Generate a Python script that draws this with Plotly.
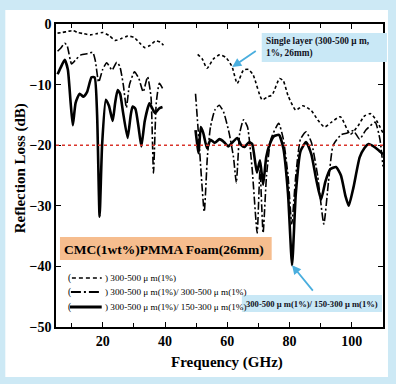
import plotly.graph_objects as go

# ---------------- data ----------------
freq_single = [5.5, 7, 9, 10.5, 12, 14, 16, 18, 20, 22, 24, 26, 28, 30, 32, 33.5, 35, 37, 38.5, 39.5,
               None,
               50.5, 52, 53.5, 55.5, 57.5, 59.5, 61.5, 63.2, 65.2, 66.8, 68.3, 71.2, 73, 74.4, 76.8, 78,
               79.5, 82, 84.3, 87, 89, 91.2, 93.5, 96.3, 99.5, 102, 104, 106, 108, 110]
rl_single = [-1.5, -1.4, -1.2, -1.1, -1.4, -1.6, -1.8, -1.6, -1.4, -1.9, -2.7, -2.4, -2.0, -2.2, -3.2, -3.9, -3.6, -2.8, -3.0, -3.5,
             None,
             -5.0, -5.8, -7.3, -5.8, -5.1, -5.5, -7.0, -9.8, -7.6, -7.5, -8.4, -12.5, -12.0, -11.7, -9.0, -9.4,
             -11.8, -14.2, -13.5, -14.3, -15.8, -17.0, -16.2, -15.3, -18.2, -16.8, -15.2, -14.8, -16.0, -18.0]

freq_same = [5.5, 6.5, 7.8, 8.6, 10, 11.5, 13, 15, 16.8, 17.6, 18.7, 20, 21.3, 23, 24.5, 25.5, 26.6, 27.6, 28.6, 30.2,
             31.6, 33, 34.4, 35.5, 36.3, 37.2, 38.2, 39.5,
             None,
             49.8, 51, 52.6, 53.6, 54.6, 56, 57.4, 58.8, 60.6, 62, 62.9, 64, 65.2, 66.5, 68, 69.6, 70.5, 71.5, 72.6,
             74, 76.5, 78, 79.5, 80.7, 82, 83.5, 85.3, 87, 89, 91, 92.5, 94, 96.5, 98.5, 100.5, 102.5, 104.5,
             107.5, 109, 110]
rl_same = [-4.5, -4.0, -3.2, -3.6, -6.6, -5.8, -5.1, -4.9, -4.7, -6.0, -9.6, -7.5, -6.4, -7.6, -6.3, -7.0, -10.0, -13.8, -10.0, -7.9,
           -9.0, -11.2, -8.7, -12.0, -24.6, -13.0, -9.8, -10.9,
           None,
           -11.5, -20.0, -31.0, -22.0, -17.0, -14.2, -13.4, -14.5, -18.0, -22.0, -26.2, -18.0, -15.8, -17.0, -24.0, -34.5, -24.0, -34.5, -25.0,
           -19.0, -16.4, -19.0, -25.0, -33.0, -25.0, -19.0, -17.8, -19.5, -25.0, -33.0, -26.0, -20.0, -18.3, -18.0, -17.6, -19.0, -17.5,
           -16.2, -19.0, -23.5]

freq_diff = [5.5, 6.5, 7.8, 8.8, 9.7, 10.4, 11.3, 12.6, 13.8, 15, 16.4, 17.4, 18.2, 19, 19.8, 21, 22, 23.2, 24, 24.8,
             25.6, 26.5, 28, 29, 29.6, 30.5, 31.5, 32.4, 33.5, 35, 36, 36.8, 38.2, 39.2,
             None,
             49.8, 50.8, 51.5, 52.3, 53.5, 54.6, 56, 57.5, 59, 60.3, 61.5, 63.2, 64.5, 65.5, 67, 68, 69.5, 70.5,
             71.5, 72.5, 73.5, 75, 76.6, 78, 79.5, 80.8, 82, 83.5, 85.3, 87, 88.5, 90.1, 91.5, 93, 94.9, 96.5,
             98, 99, 100.5, 102.5, 104, 105.4, 107, 108.5, 110]
rl_diff = [-8.3, -7.2, -5.9, -7.5, -13.0, -16.7, -13.0, -11.5, -12.0, -11.2, -8.8, -8.8, -15.0, -31.8, -20.0, -12.5, -13.5, -16.0, -13.0, -10.9,
           -11.5, -14.5, -18.8, -15.0, -13.6, -14.0, -17.0, -20.2, -16.0, -13.1, -14.0, -14.7, -13.9, -13.7,
           None,
           -17.5, -21.3, -17.0, -18.0, -20.5, -19.1, -19.6, -19.0, -19.5, -20.2, -19.6, -18.8, -20.0, -20.3, -19.5, -19.8, -24.5, -22.5,
           -26.5, -22.0, -20.0, -18.5, -18.3, -20.5, -28.0, -39.8, -28.0, -21.0, -19.5, -21.5, -25.5, -29.0, -26.0, -24.0, -23.6, -25.0,
           -28.5, -30.0, -27.0, -22.0, -20.5, -19.8, -20.2, -20.8, -21.5]

x_tickvals = [20, 40, 60, 80, 100]
y_tickvals = [0, -10, -20, -30, -40, -50]
threshold_db = -20
legend_labels = ["300-500 \u03bc m(1%)",
                 "300-500 \u03bc m(1%)/ 300-500 \u03bc m(1%)",
                 "300-500 \u03bc m(1%)/ 150-300 \u03bc m(1%)"]
title_text = "CMC(1wt%)PMMA Foam(26mm)"
single_note = "Single layer (300-500 \u03bc m,<br>1%, 26mm)"
double_note = "300-500 \u03bc m(1%)/ 150-300 \u03bc m(1%)"

# ---------------- layout geometry ----------------
W, H = 396, 384
L, R, T, B = 56, 385, 24, 327
SERIF = "Liberation Serif, Times New Roman, serif"
PAGE_BG = "#cde9f5"


def px(x):
    return (x - L) / (R - L)


def py(y):
    return (B - y) / (B - T)


fig = go.Figure()

fig.add_trace(go.Scatter(x=freq_single, y=rl_single, mode="lines", connectgaps=False,
                         line=dict(color="black", width=1.6, dash="3px,2.5px", shape="spline", smoothing=0.6),
                         showlegend=False))
fig.add_trace(go.Scatter(x=freq_same, y=rl_same, mode="lines", connectgaps=False,
                         line=dict(color="black", width=1.6, dash="8px,2.5px,2px,2.5px", shape="spline", smoothing=0.5),
                         showlegend=False))
fig.add_trace(go.Scatter(x=freq_diff, y=rl_diff, mode="lines", connectgaps=False,
                         line=dict(color="black", width=2.6, shape="spline", smoothing=0.5),
                         showlegend=False))

shapes = []
# white inner panel over the light-blue page
shapes.append(dict(type="rect", xref="paper", yref="paper", x0=px(5), x1=px(390), y0=py(377), y1=py(10),
                   fillcolor="white", line=dict(width=0), layer="below"))
# threshold line
shapes.append(dict(type="line", xref="paper", yref="y", x0=0, x1=1, y0=threshold_db, y1=threshold_db,
                   line=dict(color="#d9342b", width=1.6, dash="dot"), layer="above"))
# orange title box
shapes.append(dict(type="rect", xref="paper", yref="paper", x0=px(60), x1=px(273), y0=py(260), y1=py(237),
                   fillcolor="#f6bd8e", line=dict(width=0), layer="above"))
# blue note boxes
shapes.append(dict(type="rect", xref="paper", yref="paper", x0=px(263), x1=px(389), y0=py(62), y1=py(33),
                   fillcolor="#c9e8f6", line=dict(width=0), layer="above"))
shapes.append(dict(type="rect", xref="paper", yref="paper", x0=px(243), x1=px(384), y0=py(312), y1=py(295),
                   fillcolor="#c9e8f6", line=dict(width=0), layer="above"))
# legend samples
legend_rows = [278, 292, 307]
shapes.append(dict(type="line", xref="paper", yref="paper", x0=px(72), x1=px(102), y0=py(legend_rows[0]), y1=py(legend_rows[0]),
                   line=dict(color="black", width=1.6, dash="4px,3px"), layer="above"))
shapes.append(dict(type="line", xref="paper", yref="paper", x0=px(71), x1=px(102), y0=py(legend_rows[1]), y1=py(legend_rows[1]),
                   line=dict(color="black", width=1.8, dash="10px,3px,2px,3px"), layer="above"))
shapes.append(dict(type="line", xref="paper", yref="paper", x0=px(70), x1=px(102), y0=py(legend_rows[2]), y1=py(legend_rows[2]),
                   line=dict(color="black", width=3.2), layer="above"))

annotations = []
# axis titles
annotations.append(dict(text="Reflection Loss (dB)", xref="paper", yref="paper", x=px(20), y=py(168),
                        textangle=-90, showarrow=False, xanchor="center", yanchor="middle",
                        font=dict(family=SERIF, size=15, color="black", weight="bold")))
annotations.append(dict(text="Frequency (GHz)", xref="paper", yref="paper", x=px(228), y=py(362),
                        showarrow=False, xanchor="center", yanchor="middle",
                        font=dict(family=SERIF, size=15, color="black", weight="bold")))
# title box text
annotations.append(dict(text=title_text, xref="paper", yref="paper", x=px(62), y=py(249),
                        showarrow=False, xanchor="left", yanchor="middle",
                        font=dict(family=SERIF, size=13.5, color="black", weight="bold")))
# note texts
annotations.append(dict(text=single_note, xref="paper", yref="paper", x=px(265), y=py(47.5),
                        showarrow=False, xanchor="left", yanchor="middle", align="left",
                        font=dict(family=SERIF, size=9.3, color="#111122", weight="bold")))
annotations.append(dict(text=double_note, xref="paper", yref="paper", x=px(245), y=py(303.5),
                        showarrow=False, xanchor="left", yanchor="middle",
                        font=dict(family=SERIF, size=8.6, color="#111122", weight="bold")))
# legend texts
for row, label in zip(legend_rows, legend_labels):
    annotations.append(dict(text="(", xref="paper", yref="paper", x=px(66), y=py(row),
                            showarrow=False, xanchor="left", yanchor="middle",
                            font=dict(family=SERIF, size=9.5, color="black")))
    annotations.append(dict(text=") " + label, xref="paper", yref="paper", x=px(103), y=py(row),
                            showarrow=False, xanchor="left", yanchor="middle",
                            font=dict(family=SERIF, size=9.2, color="black")))
# arrows
ARROW = "#4aaede"
annotations.append(dict(x=61.6, y=-7.1, xref="x", yref="y", text="", showarrow=True,
                        ax=25, ay=-17, arrowhead=2, arrowsize=1, arrowwidth=1.8, arrowcolor=ARROW))
vals = [v for v in rl_diff if v is not None]
rmin = min(vals)
fmin = freq_diff[rl_diff.index(rmin)]
annotations.append(dict(x=fmin, y=rmin, xref="x", yref="y", text="", showarrow=True,
                        ax=22, ay=27, arrowhead=2, arrowsize=1, arrowwidth=1.8, arrowcolor=ARROW))

axis_common = dict(showline=True, linecolor="black", linewidth=1.5, mirror="ticks",
                   ticks="inside", ticklen=5, tickwidth=1.3, tickcolor="black",
                   showgrid=False, zeroline=False,
                   tickfont=dict(family=SERIF, size=14, color="black", weight="bold"))

fig.update_layout(
    width=W, height=H,
    margin=dict(l=L, r=W - R, t=T, b=H - B, pad=0),
    paper_bgcolor=PAGE_BG,
    plot_bgcolor="white",
    xaxis=dict(range=[5, 110], tickvals=x_tickvals,
               minor=dict(dtick=10, tick0=0, ticks="inside", ticklen=4, tickcolor="black"),
               **axis_common),
    yaxis=dict(range=[-50, 0], tickvals=y_tickvals, **axis_common),
    shapes=shapes,
    annotations=annotations,
    showlegend=False,
)

fig.write_html("out.html",
               config={"displayModeBar": False},
               post_script="document.body.style.margin='0';document.body.style.overflow='hidden';"
                           "document.body.style.background='" + PAGE_BG + "';")
